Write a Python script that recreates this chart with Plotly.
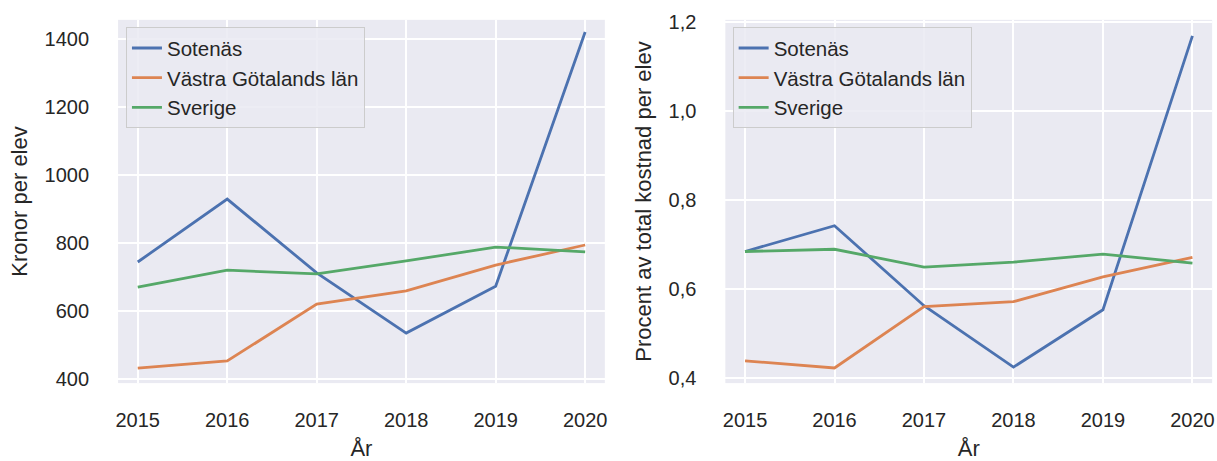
import plotly.graph_objects as go

years = [2015, 2016, 2017, 2018, 2019, 2020]
series_names = ["Sotenäs", "Västra Götalands län", "Sverige"]

kronor_sotenas = [744, 929, 712, 535, 673, 1420]
kronor_vgl = [432, 453, 620, 659, 735, 794]
kronor_sverige = [670, 720, 709, 747, 788, 774]

procent_sotenas = [0.684, 0.742, 0.562, 0.424, 0.553, 1.169]
procent_vgl = [0.438, 0.422, 0.560, 0.571, 0.627, 0.671]
procent_sverige = [0.684, 0.689, 0.649, 0.660, 0.678, 0.658]

left_ticks = [400, 600, 800, 1000, 1200, 1400]
left_ticktext = ["400", "600", "800", "1000", "1200", "1400"]
right_ticks = [0.4, 0.6, 0.8, 1.0, 1.2]
right_ticktext = ["0,4", "0,6", "0,8", "1,0", "1,2"]

colors = ["#4C72B0", "#DD8452", "#55A868"]
FONT = "Liberation Sans, Arial, sans-serif"
TXT = "#262626"

fig = go.Figure()
for name, vals, c in zip(series_names, [kronor_sotenas, kronor_vgl, kronor_sverige], colors):
    fig.add_trace(go.Scatter(x=years, y=vals, mode="lines", name=name,
                             line=dict(color=c, width=2.8), xaxis="x", yaxis="y",
                             legend="legend"))
for name, vals, c in zip(series_names, [procent_sotenas, procent_vgl, procent_sverige], colors):
    fig.add_trace(go.Scatter(x=years, y=vals, mode="lines", name=name,
                             line=dict(color=c, width=2.8), xaxis="x2", yaxis="y2",
                             legend="legend2"))

xcommon = dict(
    tickvals=years, ticktext=[str(y) for y in years],
    range=[2014.78, 2020.22],
    showgrid=True, gridcolor="white", gridwidth=1.5,
    zeroline=False, showline=False, automargin=False,
    ticks="outside", ticklen=19, tickcolor="rgba(0,0,0,0)",
    tickfont=dict(size=20, color=TXT, family=FONT),
    title=dict(text="År", font=dict(size=22, color=TXT, family=FONT), standoff=12),
)
ycommon = dict(
    showgrid=True, gridcolor="white", gridwidth=1.5,
    zeroline=False, showline=False, automargin=False,
    ticks="outside", ticklen=24, tickcolor="rgba(0,0,0,0)",
    tickfont=dict(size=20, color=TXT, family=FONT),
)

legend_common = dict(
    bgcolor="rgba(234,234,242,0.85)", bordercolor="#CCCCCC", borderwidth=1,
    font=dict(size=20.5, color=TXT, family=FONT),
    xanchor="left", yanchor="top", tracegroupgap=0,
)

fig.update_layout(
    width=1217, height=461,
    margin=dict(l=0, r=0, t=0, b=0),
    paper_bgcolor="white", plot_bgcolor="#EAEAF2",
    showlegend=True,
    xaxis=dict(domain=[0.097, 0.497], anchor="y", **xcommon),
    yaxis=dict(domain=[0.169, 0.957], anchor="x", range=[388, 1456],
               tickvals=left_ticks, ticktext=left_ticktext,
               title=dict(text="Kronor per elev", font=dict(size=22, color=TXT, family=FONT), standoff=10),
               **ycommon),
    xaxis2=dict(domain=[0.596, 0.996], anchor="y2", **xcommon),
    yaxis2=dict(domain=[0.169, 0.957], anchor="x2", range=[0.388, 1.205],
                tickvals=right_ticks, ticktext=right_ticktext,
                title=dict(text="Procent av total kostnad per elev", font=dict(size=22, color=TXT, family=FONT), standoff=10),
                **ycommon),
    legend=dict(x=0.1035, y=0.941, **legend_common),
    legend2=dict(x=0.602, y=0.941, **legend_common),
)

fig.write_html("out.html",
               config={"displayModeBar": False},
               post_script="document.body.style.margin='0';document.body.style.overflow='hidden';")
